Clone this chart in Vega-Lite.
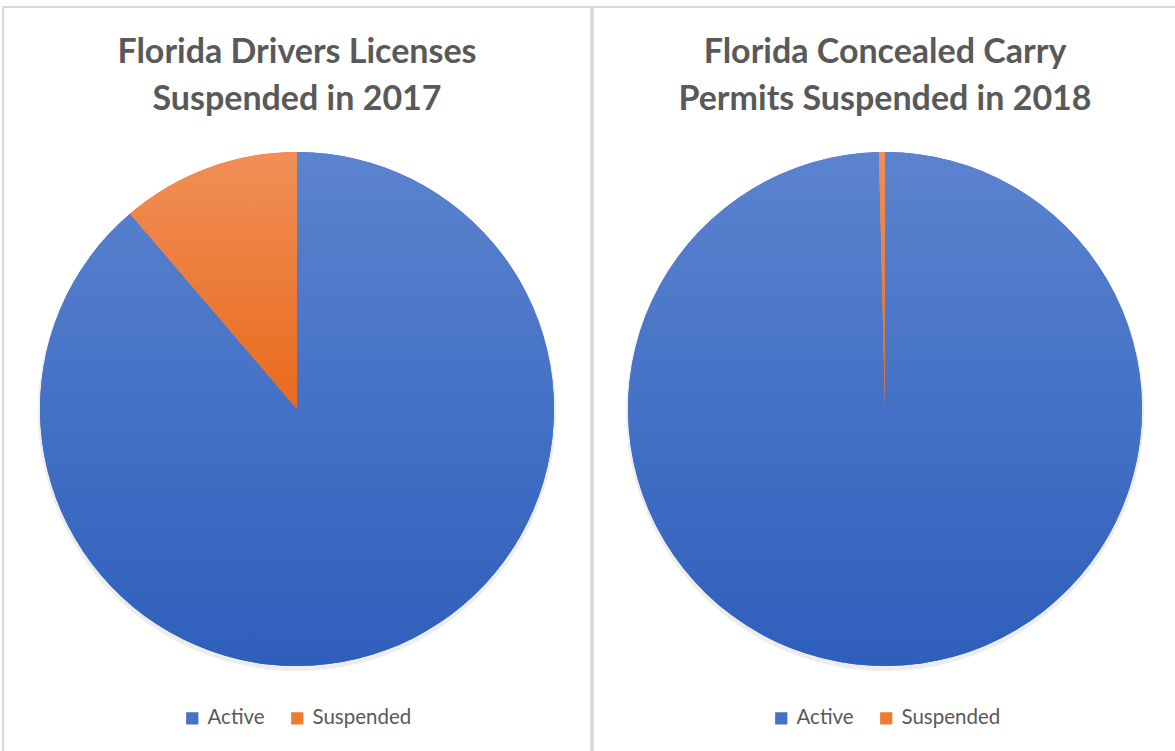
{
  "$schema": "https://vega.github.io/schema/vega-lite/v6.json",
  "padding": {"left": 2, "top": 6, "right": 0, "bottom": 0},
  "autosize": {"type": "pad"},
  "background": "#ffffff",
  "spacing": 0,
  "datasets": {
    "drivers": [
      {"status": "Active", "share": 88.74},
      {"status": "Suspended", "share": 11.26}
    ],
    "carry": [
      {"status": "Active", "share": 99.62},
      {"status": "Suspended", "share": 0.38}
    ]
  },
  "config": {
    "view": {"stroke": "#d9d9d9", "strokeWidth": 2},
    "title": {"font": "Lato", "fontWeight": "bold", "fontSize": 34, "color": "#595959", "lineHeight": 47, "anchor": "middle"},
    "legend": {"labelFont": "Lato", "labelFontSize": 20.5, "labelColor": "#595959", "symbolType": "square", "symbolSize": 150, "symbolStrokeWidth": 0, "labelOffset": 5, "columnPadding": 22, "padding": 0}
  },
  "resolve": {"scale": {"color": "independent"}, "legend": {"color": "independent"}},
  "hconcat": [
    {
      "width": 588,
      "height": 804,
      "view": {"stroke": "#d9d9d9", "strokeWidth": 2},
      "data": {"name": "drivers"},
      "title": {"text": ["Florida Drivers Licenses", "Suspended in 2017"], "offset": -110},
      "layer": [
        {
          "mark": {"type": "arc", "radius": 259, "yOffset": 3, "opacity": 0.07, "fill": "#000000"},
          "encoding": {"theta": {"field": "share", "type": "quantitative"}, "detail": {"field": "status"}}
        },
        {
          "mark": {"type": "arc", "radius": 257},
          "encoding": {
            "theta": {"field": "share", "type": "quantitative"},
            "color": {"field": "status", "type": "nominal", "scale": {"domain": ["Active", "Suspended"], "range": ["#4472c4", "#ed7d31"]},
              "legend": {"title": null, "orient": "none", "direction": "horizontal", "legendX": 179, "legendY": 701}}
          }
        },
        {
          "mark": {"type": "arc", "radius": 257},
          "encoding": {
            "theta": {"field": "share", "type": "quantitative"},
            "detail": {"field": "status"},
            "fill": {
              "condition": {"test": "datum.status === 'Active'", "value": {"gradient": "linear", "x1": 0, "y1": 0, "x2": 0, "y2": 1, "stops": [{"offset": 0, "color": "#5b83cf"}, {"offset": 1, "color": "#2e5fbc"}]}},
              "value": {"gradient": "linear", "x1": 0, "y1": 0, "x2": 0, "y2": 1, "stops": [{"offset": 0, "color": "#f08f57"}, {"offset": 1, "color": "#e96a1c"}]}
            }
          }
        }
      ]
    },
    {
      "width": 584,
      "height": 804,
      "view": {"stroke": "#d9d9d9", "strokeWidth": 2},
      "data": {"name": "carry"},
      "title": {"text": ["Florida Concealed Carry", "Permits Suspended in 2018"], "offset": -110},
      "layer": [
        {
          "mark": {"type": "arc", "radius": 259, "yOffset": 3, "opacity": 0.07, "fill": "#000000"},
          "encoding": {"theta": {"field": "share", "type": "quantitative"}, "detail": {"field": "status"}}
        },
        {
          "mark": {"type": "arc", "radius": 257},
          "encoding": {
            "theta": {"field": "share", "type": "quantitative"},
            "color": {"field": "status", "type": "nominal", "scale": {"domain": ["Active", "Suspended"], "range": ["#4472c4", "#ed7d31"]},
              "legend": {"title": null, "orient": "none", "direction": "horizontal", "legendX": 178, "legendY": 701}}
          }
        },
        {
          "mark": {"type": "arc", "radius": 257},
          "encoding": {
            "theta": {"field": "share", "type": "quantitative"},
            "detail": {"field": "status"},
            "fill": {
              "condition": {"test": "datum.status === 'Active'", "value": {"gradient": "linear", "x1": 0, "y1": 0, "x2": 0, "y2": 1, "stops": [{"offset": 0, "color": "#5b83cf"}, {"offset": 1, "color": "#2e5fbc"}]}},
              "value": {"gradient": "linear", "x1": 0, "y1": 0, "x2": 0, "y2": 1, "stops": [{"offset": 0, "color": "#f08f57"}, {"offset": 1, "color": "#e96a1c"}]}
            }
          }
        }
      ]
    }
  ]
}
